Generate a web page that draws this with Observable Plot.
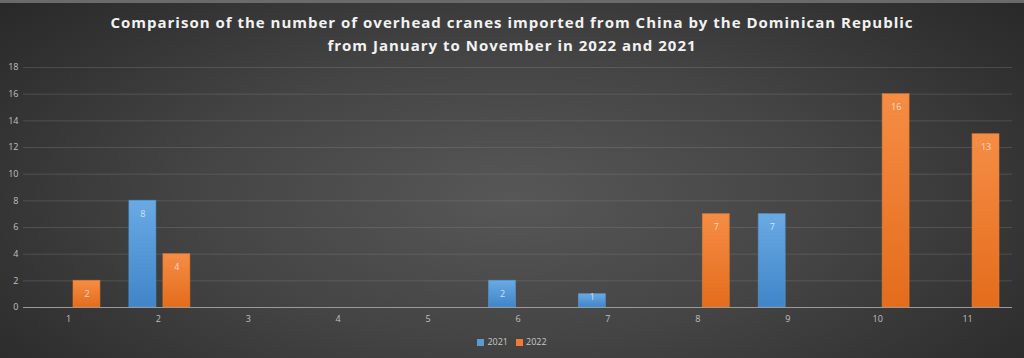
<!DOCTYPE html>
<html>
<head>
<meta charset="utf-8">
<script src="https://cdn.jsdelivr.net/npm/d3@7"></script>
<script src="https://cdn.jsdelivr.net/npm/@observablehq/plot@0.6"></script>
<style>
  html, body { margin: 0; padding: 0; }
  body { width: 1024px; height: 358px; overflow: hidden; }
  #wrap {
    position: relative; width: 1024px; height: 358px;
    background: radial-gradient(ellipse 70% 90% at 50% 55%, #575757 0%, #444 45%, #303030 80%, #262626 100%);
    border-top: 3px solid #6a6a6a; box-sizing: border-box;
    font-family: "Open Sans", Lato, sans-serif;
  }
  #title {
    height: 57px; box-sizing: border-box; padding-top: 8px;
    text-align: center; color: #f2f2f2; font-weight: 700; font-size: 15px;
    line-height: 23px; letter-spacing: 1px;
  }
  #chart svg { display: block; background: transparent; }
  #legend {
    display: flex; justify-content: center; align-items: center; gap: 8px;
    color: #c8c8c8; font-size: 9px; margin-top: 4px;
  }
  #legend span.sw { display: inline-block; width: 7px; height: 7px; margin-right: 3px; vertical-align: -1px; }
</style>
</head>
<body>
<div id="wrap">
  <div id="title">Comparison of the number of overhead cranes imported from China by the Dominican Republic<br>from January to November in 2022 and 2021</div>
  <div id="chart"></div>
  <div id="legend"></div>
</div>
<script>
const months = [1, 2, 3, 4, 5, 6, 7, 8, 9, 10, 11];
const years = ["2021", "2022"];
const values2021 = [0, 8, 0, 0, 0, 2, 1, 0, 7, 0, 0];
const values2022 = [2, 4, 0, 0, 0, 0, 0, 7, 0, 16, 13];
const yTicks = [0, 2, 4, 6, 8, 10, 12, 14, 16, 18];
const colors = { "2021": "#5b9bd5", "2022": "#ed7d31" };

const rows2021 = months.map((m, i) => ({ month: m, year: "2021", value: values2021[i] })).filter(d => d.value > 0);
const rows2022 = months.map((m, i) => ({ month: m, year: "2022", value: values2022[i] })).filter(d => d.value > 0);

const labelStyle = { fill: "#ffffff", fillOpacity: 0.72, fontSize: 9, text: d => String(d.value), x: "month", y: "value" };

const chart = Plot.plot({
  width: 1024,
  height: 271,
  marginLeft: 23,
  marginRight: 12,
  marginTop: 7,
  marginBottom: 24,
  style: { background: "transparent", fontFamily: "'Open Sans', Lato, sans-serif", fontSize: "9px", color: "#c0c0c0" },
  x: { type: "band", domain: months, paddingInner: 0, paddingOuter: 0, align: 0.5, round: false, label: null, tickSize: 0, tickPadding: 8 },
  y: { domain: [0, 18], ticks: yTicks, label: null, tickSize: 0, tickPadding: 5 },
  marks: [
    Plot.gridY(yTicks.filter(t => t > 0), { stroke: "#8a8a8a", strokeOpacity: 0.3 }),
    Plot.barY(rows2021, {
      x: "month", y: "value", insetLeft: 16, insetRight: 47,
      fill: "url(#grad2021)", stroke: colors["2021"], strokeOpacity: 0.6
    }),
    Plot.barY(rows2022, {
      x: "month", y: "value", insetLeft: 50, insetRight: 13,
      fill: "url(#grad2022)", stroke: colors["2022"], strokeOpacity: 0.6
    }),
    Plot.text(rows2021.filter(d => d.value >= 2), { ...labelStyle, dx: -15.5, dy: 13 }),
    Plot.text(rows2021.filter(d => d.value < 2), { ...labelStyle, dx: -15.5, dy: 3 }),
    Plot.text(rows2022.filter(d => d.value >= 2), { ...labelStyle, dx: 18.5, dy: 13 }),
    Plot.text(rows2022.filter(d => d.value < 2), { ...labelStyle, dx: 18.5, dy: 3 }),
    Plot.ruleY([0], { stroke: "#9a9a9a", strokeWidth: 1 })
  ]
});

// gradient defs for Excel-like bar shading
const ns = "http://www.w3.org/2000/svg";
const defs = document.createElementNS(ns, "defs");
const gradStops = {
  "2021": ["#6aaae4", "#3f85c8"],
  "2022": ["#f58d45", "#e46c1c"]
};
for (const y of years) {
  const lg = document.createElementNS(ns, "linearGradient");
  lg.setAttribute("id", "grad" + y);
  lg.setAttribute("x1", "0"); lg.setAttribute("y1", "0");
  lg.setAttribute("x2", "0"); lg.setAttribute("y2", "1");
  gradStops[y].forEach((c, i) => {
    const s = document.createElementNS(ns, "stop");
    s.setAttribute("offset", i === 0 ? "0" : "1");
    s.setAttribute("stop-color", c);
    lg.appendChild(s);
  });
  defs.appendChild(lg);
}
chart.insertBefore(defs, chart.firstChild);
document.getElementById("chart").appendChild(chart);

// legend
const legend = document.getElementById("legend");
for (const y of years) {
  const item = document.createElement("span");
  const sw = document.createElement("span");
  sw.className = "sw";
  sw.style.background = colors[y];
  item.appendChild(sw);
  item.appendChild(document.createTextNode(y));
  legend.appendChild(item);
}
</script>
</body>
</html>
